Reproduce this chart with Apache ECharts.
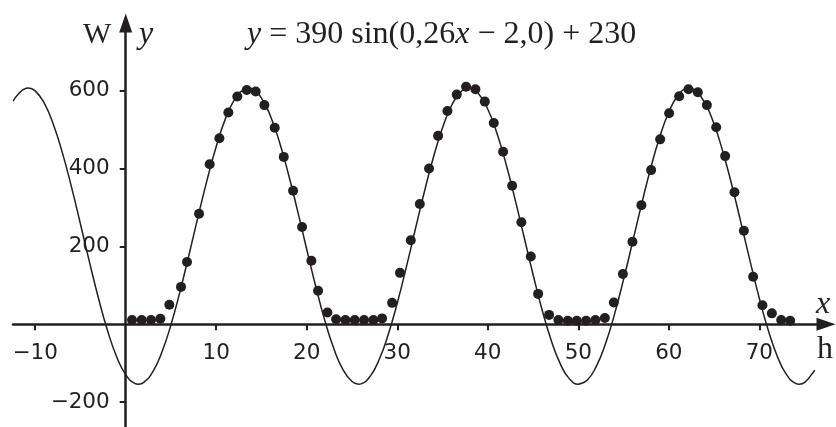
<!DOCTYPE html>
<html>
<head>
<meta charset="utf-8">
<script src="https://cdn.jsdelivr.net/npm/echarts@6/dist/echarts.min.js"></script>
<style>
  html, body { margin: 0; padding: 0; background: #ffffff; }
  #chart { width: 836px; height: 427px; }
</style>
</head>
<body>
<div id="chart"></div>
<script>
// Tick values shown on the axes
const xTicks = [-10, 10, 20, 30, 40, 50, 60, 70];
const yTicks = [-200, 200, 400, 600];

const dotX = [0.70, 1.77, 2.80, 3.83, 4.82, 6.11, 6.77, 8.10, 9.28, 10.35, 11.34, 12.33, 13.37, 14.36, 15.32,
  16.46, 17.46, 18.49, 19.48, 20.51, 21.25, 22.28, 23.24, 24.27, 25.30, 26.33, 27.36, 28.32, 29.43, 30.30,
  31.49, 32.49, 33.51, 34.51, 35.54, 36.57, 37.60, 38.63, 39.67, 40.66, 41.69, 42.69, 43.71, 44.75, 45.56,
  46.77, 47.80, 48.84, 49.83, 50.86, 51.89, 52.93, 53.92, 54.92, 55.98, 56.97, 58.04, 59.04, 60.03, 61.14,
  62.17, 63.20, 64.20, 65.23, 66.22, 67.25, 68.29, 69.31, 70.34, 71.38, 72.41, 73.40];
const dotY = [11, 11, 11, 14, 50, 96, 160, 284, 411, 478, 544, 585, 602, 598, 563,
  505, 430, 343, 250, 163, 86, 30, 13, 11, 11, 11, 11, 15, 55, 132,
  216, 309, 400, 484, 548, 590, 610, 604, 572, 517, 443, 356, 262, 174, 78,
  24, 11, 9, 9, 9, 11, 16, 56, 129, 212, 306, 396, 475, 542, 586,
  604, 596, 563, 506, 432, 339, 240, 122, 49, 28, 11, 9];

// Fitted curve, points (incl. its crests and troughs)
const curveX = [-12.42, -12, -11, -10.77, -10, -9, -8, -7, -6, -5, -4, -3, -2, -1, 0, 1, 1.40, 2, 3, 4, 5,
  6, 7, 8, 9, 10, 11, 12, 13, 13.57, 14, 15, 16, 17, 18, 19, 20, 21, 22, 23, 24, 25, 25.73, 26,
  27, 28, 29, 30, 31, 32, 33, 34, 35, 36, 37, 37.90, 38, 39, 40, 41, 42, 43, 44, 45, 46, 47, 48, 49, 50, 50.07,
  51, 52, 53, 54, 55, 56, 57, 58, 59, 60, 61, 62, 62.23, 63, 64, 65, 66, 67, 68, 69, 70, 71, 72, 73, 74, 74.40,
  75, 76, 76.1];
const curveY = [572.8, 587.9, 606.3, 607.0, 599.6, 568.1, 514.0, 440.9, 353.6, 257.6, 159.7, 66.1, -16.6, -83.3, -129.4, -152.0, -154.0, -149.4, -121.9, -71.4, -1.2,
  84.6, 179.1, 277.2, 371.6, 456.7, 527.0, 576.4, 602.9, 607.0, 604.6, 581.2, 534.3, 467.0, 383.6, 290.0, 192.1, 96.4, 9.3, -63.1, -116.6, -147.2, -154.0, -153.1,
  -133.8, -90.6, -26.4, 54.5, 146.9, 244.6, 341.1, 429.6, 505.1, 562.1, 596.8, 607.0, 606.9, 591.7, 552.4, 491.4, 413.1, 322.0, 224.8, 127.7, 36.8, -40.9, -101.1, -139.7, -154.0, -154.0,
  -143.0, -107.5, -49.9, 25.9, 115.2, 211.9, 309.4, 401.5, 481.9, 545.4, 587.9, 606.3, 607.0, 599.5, 568.0, 513.9, 440.7, 353.4, 257.4, 159.5, 66.0, -16.7, -83.3, -129.5, -152.0, -154.0,
  -149.4, -121.9, -117.9];

// keep curve points ordered by x
const curvePts = curveX.map((x, i) => [x, curveY[i]]).sort((a, b) => a[0] - b[0]);

const INK = '#231f20';
const SERIF = '"Liberation Serif", "Times New Roman", serif';
const SANS = '"DejaVu Sans", sans-serif';

const W = 836, H = 427;
const G = { left: 13, right: 10, top: 23, bottom: 0 };
const X_MIN = -12.45, X_MAX = 77.36;
const Y_MIN = -264, Y_MAX = 774;
// place the axes through the origin
const xAxisOffset = -((H - G.bottom) - (G.top + (Y_MAX - 0) / (Y_MAX - Y_MIN) * (H - G.top - G.bottom)));
const yAxisOffset = -((0 - X_MIN) / (X_MAX - X_MIN) * (W - G.left - G.right));

const fmtNum = v => (v < 0 ? '\u2212' + Math.abs(v) : String(v));

const chart = echarts.init(document.getElementById('chart'), null, { renderer: 'canvas' });

chart.setOption({
  animation: false,
  backgroundColor: '#ffffff',
  title: {
    text: '{i|y} = 390 sin(0,26{i|x} \u2212 2,0) + 230',
    left: 247,
    top: 19,
    padding: 0,
    textStyle: {
      fontFamily: SERIF,
      fontSize: 32,
      fontWeight: 'normal',
      color: INK,
      rich: {
        i: { fontFamily: SERIF, fontSize: 32, fontStyle: 'italic', color: INK }
      }
    }
  },
  grid: Object.assign({ containLabel: false, outerBoundsMode: 'none' }, G),
  xAxis: {
    type: 'value',
    position: 'bottom',
    offset: xAxisOffset,
    min: X_MIN,
    max: X_MAX,
    axisLine: {
      onZero: false,
      symbol: ['none', 'triangle'],
      symbolSize: [13, 19],
      lineStyle: { color: INK, width: 2.5 }
    },
    axisTick: { show: true, customValues: xTicks, length: 6, lineStyle: { color: INK, width: 2 } },
    axisLabel: {
      customValues: xTicks,
      formatter: fmtNum,
      margin: 18,
      fontFamily: SANS,
      fontSize: 21.5,
      color: INK
    },
    splitLine: { show: false }
  },
  yAxis: {
    type: 'value',
    position: 'left',
    offset: yAxisOffset,
    min: Y_MIN,
    max: Y_MAX,
    axisLine: {
      onZero: false,
      symbol: ['none', 'triangle'],
      symbolSize: [13, 19],
      lineStyle: { color: INK, width: 2.5 }
    },
    axisTick: { show: true, customValues: yTicks, length: 6, lineStyle: { color: INK, width: 2 } },
    axisLabel: {
      customValues: yTicks,
      formatter: fmtNum,
      margin: 16,
      fontFamily: SANS,
      fontSize: 21.5,
      color: INK
    },
    splitLine: { show: false }
  },
  graphic: [
    { type: 'text', left: 83, top: 20, style: { text: 'W', font: '30px ' + SERIF, fill: INK } },
    { type: 'text', left: 139, top: 19, style: { text: 'y', font: 'italic 32px ' + SERIF, fill: INK } },
    { type: 'text', left: 816, top: 289, style: { text: 'x', font: 'italic 32px ' + SERIF, fill: INK } },
    { type: 'text', left: 817, top: 334, style: { text: 'h', font: '32px ' + SERIF, fill: INK } }
  ],
  series: [
    {
      type: 'line',
      data: curvePts,
      smooth: true,
      showSymbol: false,
      lineStyle: { color: INK, width: 1.5 },
      z: 2
    },
    {
      type: 'scatter',
      data: dotX.map((x, i) => [x, dotY[i]]),
      symbol: 'circle',
      symbolSize: 10,
      itemStyle: { color: INK, opacity: 1 },
      z: 3
    }
  ]
});
</script>
</body>
</html>
